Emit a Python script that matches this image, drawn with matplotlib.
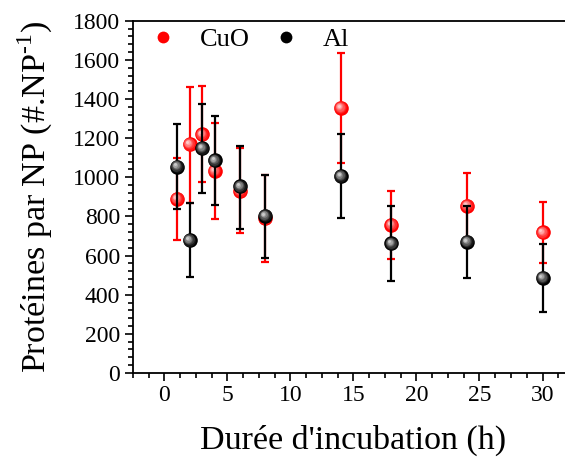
import matplotlib.pyplot as plt
import numpy as np
from matplotlib.transforms import ScaledTranslation
from matplotlib.ticker import MultipleLocator
from matplotlib.colors import to_rgb

plt.rcParams['font.family'] = ['Liberation Serif', 'DejaVu Serif']
plt.rcParams['mathtext.fontset'] = 'custom'
plt.rcParams['mathtext.rm'] = 'Liberation Serif'

# incubation time (h)
hours = [1, 2, 3, 4, 6, 8, 14, 18, 24, 30]

# proteins per nanoparticle
cuo_mean = [890, 1170, 1220, 1033, 930, 791, 1356, 758, 855, 719]
cuo_hi = [1098, 1461, 1469, 1277, 1149, 1014, 1634, 932, 1022, 876]
cuo_lo = [680, 871, 975, 789, 714, 569, 1075, 581, 688, 561]

al_mean = [1055, 680, 1149, 1087, 953, 803, 1007, 663, 671, 487]
al_hi = [1271, 867, 1375, 1315, 1162, 1014, 1222, 855, 855, 660]
al_lo = [837, 492, 920, 857, 736, 590, 791, 469, 484, 314]

fig = plt.figure(figsize=(5.65, 4.61), dpi=100)
ax = fig.add_axes([0.235, 0.191, 0.781, 0.764])


def shiny(ax, x, y, color, size, z):
    # fake a 3D ball: base disc + lighter discs pushed to the upper left
    base = np.array(to_rgb(color))
    ax.plot(x, y, 'o', ms=size, color=color, mec='none', zorder=z)
    n = 6
    for i in range(1, n + 1):
        f = i / n
        c = base + (np.array([1, 1, 1]) - base) * f * 0.9
        off = ScaledTranslation(-f * size * 0.14 / 72, f * size * 0.14 / 72,
                                fig.dpi_scale_trans)
        ax.plot(x, y, 'o', ms=size * (1 - f * 0.8), color=c, mec='none',
                alpha=0.6, zorder=z + 0.01 * i, transform=ax.transData + off)


series = [
    ('CuO', cuo_mean, cuo_lo, cuo_hi, '#ff0000', 3),
    ('Al', al_mean, al_lo, al_hi, '#000000', 5),
]
for name, m, lo, hi, col, z in series:
    m = np.array(m)
    err = [m - np.array(lo), np.array(hi) - m]
    ax.errorbar(hours, m, yerr=err, fmt='none', ecolor=col, elinewidth=1.6,
                capsize=3, capthick=1.6, zorder=z)
    shiny(ax, hours, m, col, 10.5, z + 0.5)

# legend handles
h1, = ax.plot([], [], 'o', ms=8.5, color='#ff0000', mec='none')
h2, = ax.plot([], [], 'o', ms=8.5, color='#000000', mec='none')
ax.legend([h1, h2], ['CuO', 'Al'], ncol=2, frameon=False, fontsize=19,
          loc='center left', bbox_to_anchor=(0.039, 0.948), borderpad=0,
          borderaxespad=0, handletextpad=0.9, columnspacing=0.87,
          handlelength=1.0)

ax.set_xlim(-2.5, 32.5)
ax.set_ylim(0, 1800)
ax.xaxis.set_major_locator(MultipleLocator(5))
ax.xaxis.set_minor_locator(MultipleLocator(1.25))
ax.yaxis.set_major_locator(MultipleLocator(200))
ax.yaxis.set_minor_locator(MultipleLocator(40))
ax.tick_params(which='both', direction='out', width=1.2, labelsize=17,
               top=False, right=False)
ax.tick_params(which='major', length=6, pad=3)
ax.tick_params(which='minor', length=3.5)
for s in ax.spines.values():
    s.set_linewidth(1.3)
ax.spines['right'].set_visible(False)

ax.set_xlabel("Durée d'incubation (h)", fontsize=24.5, labelpad=13)
ax.set_ylabel(r'Protéines par NP (#.NP$^{\text{-1}}$)', fontsize=24.5,
              labelpad=13)

fig.savefig('out.png', dpi=100)
